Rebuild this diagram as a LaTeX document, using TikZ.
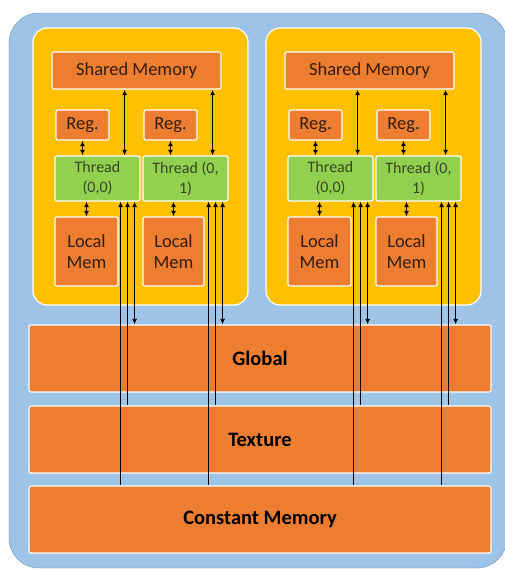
\documentclass[tikz,border=0pt]{standalone}
\usepackage{fontspec}
\setmainfont{Carlito}
\usetikzlibrary{calc,arrows.meta}
\definecolor{gpublue}{RGB}{157,195,230}
\definecolor{gpuedge}{RGB}{105,145,190}
\definecolor{blockyellow}{RGB}{255,192,0}
\definecolor{memorange}{RGB}{237,125,49}
\definecolor{thrgreen}{RGB}{146,208,80}
\definecolor{memtext}{RGB}{50,30,15}
\definecolor{thrtext}{RGB}{55,70,35}

\begin{document}
\begin{tikzpicture}[x=1pt, y=-1pt, >={Latex[length=5.5pt,width=5pt]},
    mem/.style={draw=white, line width=1.2pt, fill=memorange, rounded corners=2pt, inner sep=0pt, text=memtext, align=center, font=\fontsize{18.5}{21.5}\selectfont},
    thr/.style={mem, fill=thrgreen, text=thrtext, minimum width=85, minimum height=45, font=\fontsize{16}{20}\selectfont},
    bar/.style={mem, text=black, minimum width=462, minimum height=67, font=\fontsize{20.5}{22}\selectfont\bfseries},
    wire/.style={draw, line width=1.2pt}]
    \useasboundingbox (0,0) rectangle (505,570);
    % device
    \path[draw=gpuedge, fill=gpublue, rounded corners=30pt](9,13)rectangle(507,568);
    \node[bar](glob)at(260,358.5){Global};
    \node[bar](tex)at(260,439.5){Texture};
    \node[bar](const)at(260,519.5){Constant Memory};
    % blocks
    \foreach \b/\dx in {L/0, R/233}{
    \begin{scope}[xshift=\dx]
        \path[draw=white, line width=1.2pt, fill=blockyellow, rounded corners=14pt](33,28)rectangle(248,305);
        \node[mem, minimum width=169, minimum height=37](shm\b)at(136.5,70.5){Shared Memory};
        \node[mem, minimum width=53, minimum height=30](reg\b1)at(82.5,125){Reg.};
        \node[mem, minimum width=53, minimum height=30](reg\b2)at(170.5,125){Reg.};
        \node[thr](thr\b1)at(97.5,178.5){Thread\\(0,0)};
        \node[thr](thr\b2)at(185.5,178.5){Thread (0,\\1)};
        \node[mem, minimum width=63, minimum height=69](loc\b1)at(86.5,251.5){Local\\Mem};
        \node[mem, minimum width=61, minimum height=69](loc\b2)at(173.5,251.5){Local\\Mem};
    \end{scope}
    }
    % accesses
    \foreach \b in {L,R}{
    \foreach \i in {1,2}{
        \path[wire, <->](reg\b\i.south)to(thr\b\i.north -| reg\b\i.south);
        \path[wire, <->](thr\b\i.south -| loc\b\i.north)to(loc\b\i.north);
        \coordinate(s\b\i)at($(thr\b\i.north east)+(-16,0)$);
        \path[wire, <->](shm\b.south -| s\b\i)to(s\b\i);
        \coordinate(c\b\i)at($(thr\b\i.south east)+(-20,0)$);
        \coordinate(t\b\i)at($(thr\b\i.south east)+(-13,0)$);
        \coordinate(g\b\i)at($(thr\b\i.south east)+(-6,0)$);
        \path[wire, <-](c\b\i)to(const.north -| c\b\i);
        \path[wire, <-](t\b\i)to(tex.north -| t\b\i);
        \path[wire, <->](g\b\i)to(glob.north -| g\b\i);
    }
    }
\end{tikzpicture}
\end{document}
